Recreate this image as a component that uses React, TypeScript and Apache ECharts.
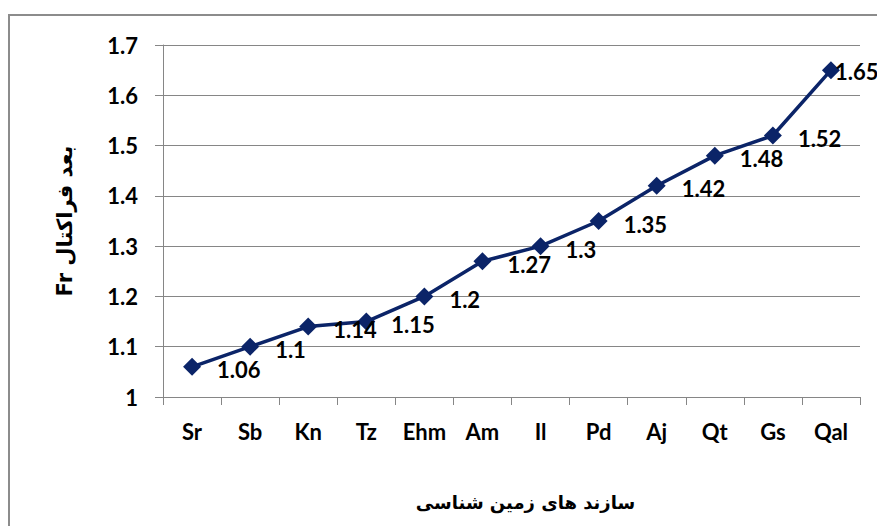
import React, { useEffect, useRef } from "react";
import * as echarts from "echarts";

const categories = ["Sr", "Sb", "Kn", "Tz", "Ehm", "Am", "Il", "Pd", "Aj", "Qt", "Gs", "Qal"];
const fractalValues = [1.06, 1.1, 1.14, 1.15, 1.2, 1.27, 1.3, 1.35, 1.42, 1.48, 1.52, 1.65];
const yTitle = "\u202Bبعد فراکتال Fr\u202C";
const xTitle = "سازند های زمین شناسی";

export default function App() {
  const ref = useRef<HTMLDivElement>(null);
  useEffect(() => {
    if (!ref.current) return;
    const chart = echarts.init(ref.current, null, { renderer: "svg" });
    const latin = "Lato, 'Open Sans', sans-serif";
    const data = fractalValues.map((v, i) =>
      i === fractalValues.length - 1
        ? { value: v, label: { distance: -5, offset: [0, 1] } }
        : v
    );
    chart.setOption({
      animation: false,
      backgroundColor: "#ffffff",
      graphic: [
        {
          type: "rect",
          shape: { x: 9, y: 15, width: 900, height: 600 },
          style: { fill: "none", stroke: "#8c8c8c", lineWidth: 2 },
          silent: true,
        },
      ],
      grid: { left: 163, right: 17, top: 45, bottom: 129, containLabel: false },
      xAxis: {
        type: "category",
        data: categories,
        boundaryGap: true,
        axisLine: { show: true, lineStyle: { color: "#868686", width: 1 } },
        axisTick: { show: true, length: 8, lineStyle: { color: "#868686" }, alignWithLabel: false },
        axisLabel: {
          margin: 23,
          color: "#000",
          fontFamily: latin,
          fontWeight: "bold",
          fontSize: 22,
          interval: 0,
        },
        name: xTitle,
        nameLocation: "middle",
        nameGap: 96,
        nameTextStyle: {
          fontFamily: "'DejaVu Sans', sans-serif",
          fontWeight: "bold",
          fontSize: 18,
          color: "#000",
          padding: [0, 0, 0, 28],
        },
        splitLine: { show: false },
      },
      yAxis: {
        type: "value",
        min: 1,
        max: 1.7,
        interval: 0.1,
        axisLine: { show: true, lineStyle: { color: "#868686", width: 1 } },
        axisTick: { show: true, length: 8, lineStyle: { color: "#868686" } },
        axisLabel: {
          margin: 25,
          color: "#000",
          fontFamily: latin,
          fontWeight: "bold",
          fontSize: 22,
          formatter: (v: number) => String(Math.round(v * 10) / 10),
        },
        splitLine: { show: true, lineStyle: { color: "#868686", width: 1 } },
        name: yTitle,
        nameLocation: "middle",
        nameGap: 88,
        nameRotate: 90,
        nameTextStyle: {
          fontFamily: "'DejaVu Sans', sans-serif",
          fontWeight: "bold",
          fontSize: 21,
          color: "#000",
        },
      },
      series: [
        {
          type: "line",
          data,
          symbol: "diamond",
          symbolSize: 18,
          lineStyle: { color: "#0b2468", width: 3.5 },
          itemStyle: { color: "#0b2468" },
          label: {
            show: true,
            position: "right",
            distance: 16,
            offset: [0, 3],
            color: "#000",
            fontFamily: latin,
            fontWeight: "bold",
            fontSize: 22,
          },
        },
      ],
    });
    return () => chart.dispose();
  }, []);
  return (
    <div
      ref={ref}
      style={{ position: "fixed", left: 0, top: 0, width: 877, height: 526 }}
    />
  );
}
